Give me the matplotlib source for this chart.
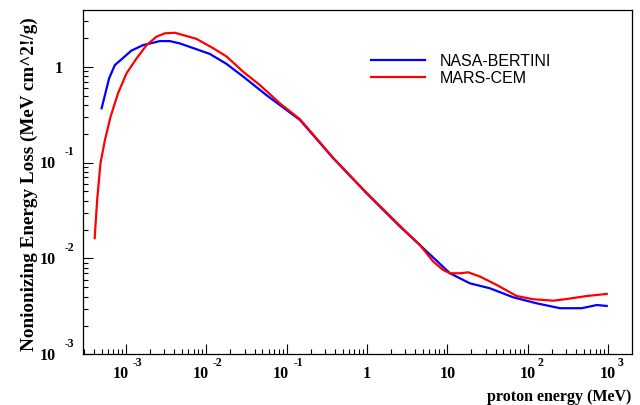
import matplotlib
matplotlib.use('Agg')
import matplotlib.pyplot as plt

# proton energy (MeV) and NIEL (MeV cm^2/g)
bertini_energy = [5.0e-4, 6.2e-4, 7.3e-4, 8.8e-4, 1.17e-3, 1.64e-3, 2.65e-3, 3.53e-3, 4.7e-3, 7.6e-3,
                  1.11e-2, 1.79e-2, 2.9e-2, 5.6e-2, 0.147, 0.381, 0.99, 2.58, 4.57,
                  10.8, 19.1, 33.9, 66, 129, 253, 471, 724, 964]
bertini_loss = [0.368, 0.757, 1.04, 1.19, 1.47, 1.68, 1.85, 1.85, 1.75, 1.52,
                1.36, 1.07, 0.787, 0.507, 0.278, 0.111, 0.0479, 0.0215, 0.0138,
                0.00701, 0.00551, 0.00489, 0.00394, 0.00341, 0.00303, 0.00303, 0.00327, 0.00320]

cem_energy = [4.1e-4, 4.4e-4, 4.84e-4, 5.5e-4, 6.46e-4, 8.0e-4, 1.02e-3, 1.36e-3, 1.81e-3, 2.41e-3,
              3.06e-3, 4.07e-3, 5.69e-3, 7.59e-3, 1.22e-2, 1.79e-2, 2.88e-2, 4.66e-2, 8.26e-2, 0.147,
              0.381, 0.99, 2.58, 4.57, 6.7, 8.9, 10.8, 14.4, 18.2, 25.7,
              41.2, 73.1, 117, 209, 306, 543, 964]
cem_loss = [0.0163, 0.0407, 0.0984, 0.172, 0.301, 0.528, 0.853, 1.22, 1.68, 2.06,
            2.23, 2.26, 2.09, 1.95, 1.56, 1.28, 0.887, 0.644, 0.415, 0.283,
            0.112, 0.0484, 0.0219, 0.0138, 0.00927, 0.00759, 0.00701, 0.00701, 0.00718, 0.00646,
            0.0053, 0.00406, 0.00376, 0.00363, 0.00378, 0.00406, 0.00427]

# tick positions with (base, exponent) text, ROOT style
x_ticks = [1e-3, 1e-2, 1e-1, 1, 10, 1e2, 1e3]
x_tick_text = [('10', '-3'), ('10', '-2'), ('10', '-1'), ('1', ''), ('10', ''), ('10', '2'), ('10', '3')]
y_ticks = [1e-3, 1e-2, 1e-1, 1]
y_tick_text = [('10', '-3'), ('10', '-2'), ('10', '-1'), ('1', '')]

serif = {'family': 'Liberation Serif', 'weight': 'bold', 'size': 11.5}
serif_small = {'family': 'Liberation Serif', 'weight': 'bold', 'size': 8.5}

fig = plt.figure(figsize=(6.4, 4.05), dpi=100)
ax = fig.add_axes([0.130, 0.125, 0.857, 0.8515])

ax.plot(bertini_energy, bertini_loss, color='#0000ff', lw=1.6, label='NASA-BERTINI')
ax.plot(cem_energy, cem_loss, color='#ff0000', lw=1.6, label='MARS-CEM')

ax.set_xscale('log')
ax.set_yscale('log')
ax.set_xlim(2.95e-4, 1.97e3)
ax.set_ylim(1e-3, 3.95)

ax.set_xticks(x_ticks)
ax.set_yticks(y_ticks)
ax.tick_params(which='both', direction='in', top=False, right=False, width=0.8,
               labelbottom=False, labelleft=False)
ax.tick_params(which='major', length=7)
ax.tick_params(which='minor', length=3.5)

# tick labels drawn as "10" plus a raised exponent
xt = ax.get_xaxis_transform()
for v, (base, ex) in zip(x_ticks, x_tick_text):
    neg = ex.startswith('-')
    ax.annotate(base, (v, 0), xycoords=xt, xytext=(-4 if neg else 0, -17.3), textcoords='offset points',
                ha='center', va='baseline', fontproperties=serif)
    if ex:
        ax.annotate(ex, (v, 0), xycoords=xt, xytext=(5 if neg else 7, -8.6), textcoords='offset points',
                    ha='left', va='baseline', fontproperties=serif_small)

yt = ax.get_yaxis_transform()
for v, (base, ex) in zip(y_ticks, y_tick_text):
    if ex:
        ax.annotate(base, (0, v), xycoords=yt, xytext=(-19.4, -4), textcoords='offset points',
                    ha='right', va='baseline', fontproperties=serif)
        ax.annotate(ex, (0, v), xycoords=yt, xytext=(-6.5, 5.4), textcoords='offset points',
                    ha='right', va='baseline', fontproperties=serif_small)
    else:
        ax.annotate(base, (0, v), xycoords=yt, xytext=(-15, -4.5), textcoords='offset points',
                    ha='right', va='baseline', fontproperties=serif)

for sp in ax.spines.values():
    sp.set_linewidth(0.9)

ax.set_xlabel('proton energy (MeV)', fontdict=serif, loc='right')
ax.xaxis.set_label_coords(1.0, -0.100)
ax.set_ylabel('Nonionizing Energy Loss (MeV cm^2!/g)', family='Liberation Serif', weight='bold',
              size=13.8, loc='top')
ax.yaxis.set_label_coords(-0.0826, 0.978)

leg = ax.legend(loc='upper left', bbox_to_anchor=(0.5797, 0.8667), bbox_transform=fig.transFigure,
                frameon=False, borderaxespad=0, borderpad=0, handlelength=3.4, handletextpad=0.9,
                labelspacing=0.1, prop={'family': 'Liberation Sans', 'size': 11.5})

fig.savefig('out.png', dpi=100)
plt.close('all')
